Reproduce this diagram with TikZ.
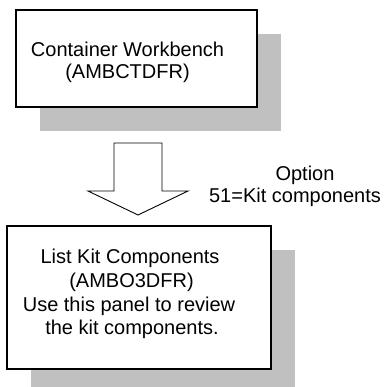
\documentclass[tikz,border=0pt]{standalone}
\usepackage{fontspec}
\setmainfont{Liberation Sans}
\usetikzlibrary{calc}
\definecolor{shadowgray}{HTML}{C0C0C0}
\begin{document}
\begin{tikzpicture}[x=1pt,y=-1pt,
  panel/.style={draw=black,line width=1.3pt,fill=white,rectangle,inner sep=0pt},
  shade/.style={fill=shadowgray,draw=none,rectangle,inner sep=0pt},
  txt/.style={font=\fontsize{20}{23.5}\selectfont,align=center,inner sep=0pt,anchor=base},
  blockarrow/.style={draw=black,line width=0.9pt,fill=white,line join=miter}]
\useasboundingbox (0,0) rectangle (385,387);
% top panel
\node[shade,minimum width=241pt,minimum height=97pt] (topshadow) at (160.5,82.5) {};
\node[panel,minimum width=241pt,minimum height=97pt] (top) at (136.5,58.5) {};
\node[txt] (toptext) at (127.5,57) {Container Workbench};
\node[txt] (toptext2) at (127.5,79) {(AMBCTDFR)};
% bottom panel
\begin{scope}
\clip (0,0) rectangle (385,387);
\node[shade,minimum width=264pt,minimum height=143pt] (botshadow) at (163,321.5) {};
\end{scope}
\node[panel,minimum width=264pt,minimum height=143pt] (bot) at (139,297.5) {};
\node[txt] (bottext1) at (130,263) {List Kit Components};
\node[txt] (bottext2) at (131.5,287) {(AMBO3DFR)};
\node[txt] (bottext3) at (129,311) {Use this panel to review};
\node[txt] (bottext4) at (132,334) {the kit components.};
% block arrow
\coordinate (atop) at (138,143);
\coordinate (atip) at (138,215);
\draw[blockarrow] ($(atop)+(-24,0)$) -- ($(atop)+(24,0)$) -- ($(atop)+(24,48)$)
  -- ($(atop)+(50,48)$) -- (atip) -- ($(atop)+(-50,48)$) -- ($(atop)+(-24,48)$) -- cycle;
\node[txt] (opt1) at (305,180) {Option};
\node[txt] (opt2) at (295,202) {51=Kit components};
\end{tikzpicture}
\end{document}
